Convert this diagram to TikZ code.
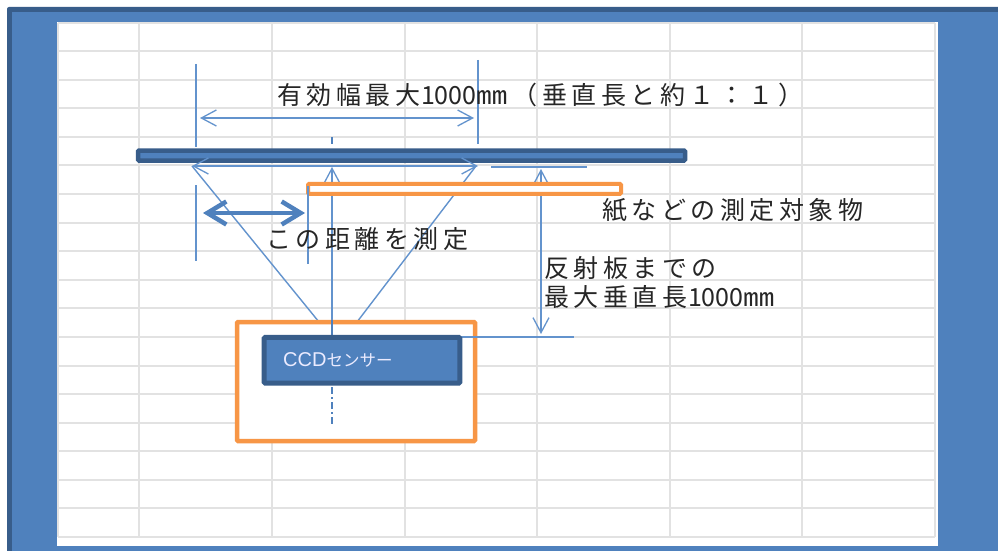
\documentclass[tikz,border=0pt]{standalone}
\usepackage{fontspec}
\usetikzlibrary{arrows.meta}
\newfontfamily\jpwide[LetterSpace=18]{Noto Sans CJK JP}
\newfontfamily\jpplain{Noto Sans CJK JP}
\newfontfamily\ccdfont{Liberation Sans}
\newcommand{\wtxt}[1]{{\jpwide #1}}
\newcommand{\mmsign}{\scalebox{1.25}[1]{㎜}}
\definecolor{blueback}{HTML}{4F81BD}
\definecolor{bluedark}{HTML}{385D8A}
\definecolor{blueline}{HTML}{6393CD}
\definecolor{orangeline}{HTML}{F79646}
\definecolor{gridline}{HTML}{E2E2E2}
\tikzset{
  gridrule/.style={draw=gridline,line width=1.4pt},
  dimline/.style={draw=blueline,line width=1.4pt},
  dimarrow/.style={dimline,{Straight Barb[length=15pt,width=16pt,line width=1.3pt]}-{Straight Barb[length=15pt,width=16pt,line width=1.3pt]}},
  uparrow/.style={dimline,{Straight Barb[length=15pt,width=16pt,line width=1.3pt]}-},
  thickarrow/.style={draw=blueback,line width=4.5pt,{Straight Barb[length=19pt,width=23pt,line width=4.5pt]}-{Straight Barb[length=19pt,width=23pt,line width=4.5pt]}},
  chaindash/.style={draw=blueback,line width=1.3pt,dash pattern=on 7pt off 3pt on 2pt off 3pt},
  jplabel/.style={anchor=west,inner sep=0pt,outer sep=0pt,text=black!85,font=\fontsize{25}{25}\selectfont\jpplain},
  barblue/.style={draw=bluedark,fill=blueback,line width=4pt,rounded corners=1pt,inner sep=0pt},
  barorange/.style={draw=orangeline,fill=white,line width=4pt,rounded corners=1pt,inner sep=0pt},
}
\begin{document}
\begin{tikzpicture}[x=1pt,y=-1pt]
\useasboundingbox (0,0) rectangle (998,551);
% frame
\fill[white] (0,0) rectangle (998,551);
\begin{scope}
\clip (0,0) rectangle (998,551);
\fill[bluedark,rounded corners=2pt] (7,7) rectangle (1010,560);
\end{scope}
\fill[blueback] (12,12) rectangle (998,551);
\fill[white] (57,22) rectangle (938,546);
% sheet grid
\foreach \yy in {23,51,80,108,137,165,194,223,251,280,308,337,366,394,423,451,480,508,537}
  \draw[gridrule] (58,\yy) -- (935,\yy);
\foreach \xx in {58,139,272,405,537,670,802,935}
  \draw[gridrule] (\xx,23) -- (\xx,537);
% named anchors
\coordinate (tlA) at (196,64);   \coordinate (tlB) at (196,147);
\coordinate (trA) at (478,60);   \coordinate (trB) at (478,144);
\coordinate (wL) at (200,118);   \coordinate (wR) at (474,118);
\coordinate (rL) at (192,166);   \coordinate (rR) at (478,166);
\coordinate (c0) at (332,137);   \coordinate (c1) at (332,144);
\coordinate (cT) at (332,167);   \coordinate (cB) at (332,335);
\coordinate (sL) at (319,322);   \coordinate (sR) at (357,322);
\coordinate (sRt) at (476,166);
\coordinate (mlA) at (196,185);  \coordinate (mlB) at (196,261);
\coordinate (mrA) at (308,186);  \coordinate (mrB) at (308,264);
\coordinate (dL) at (203,213);   \coordinate (dR) at (305,213);
\coordinate (hA) at (491,167);   \coordinate (hB) at (587,167);
\coordinate (vA) at (541,169);   \coordinate (vB) at (541,334);
\coordinate (bA) at (460,337);   \coordinate (bB) at (574,337);
\coordinate (c2) at (332,387);   \coordinate (c3) at (332,424);
% sloped rays (behind objects)
\draw[dimline] (rL) -- (sL);
\draw[dimline] (sRt) -- (sR);
% reflector
\node[barblue,line width=4.5pt,minimum width=547pt,minimum height=10pt] (reflector) at (411.5,155.5) {};
% dimension lines above
\draw[dimline] (tlA) -- (tlB);
\draw[dimline] (trA) -- (trB);
\draw[dimarrow] (wL) -- (wR);
\draw[dimarrow] (rL) -- (rR);
\draw[chaindash] (c0) -- (c1);
\draw[uparrow] (cT) -- (cB);
\draw[dimline] (hA) -- (hB);
\draw[dimarrow] (vA) -- (vB);
% orange target
\node[barorange,minimum width=313pt,minimum height=10pt] (target) at (464.5,188.9) {};
\draw[dimline] (mlA) -- (mlB);
\draw[dimline] (mrA) -- (mrB);
\draw[thickarrow] (dL) -- (dR);
% sensor housing
\node[barorange,line width=4.5pt,minimum width=238pt,minimum height=119pt] (housing) at (356,381.5) {};
\draw[dimline] (bA) -- (bB);
\draw[draw=blueback,line width=1.3pt] (332,320) -- (cB);
\node[barblue,line width=5pt,minimum width=195.6pt,minimum height=45.7pt] (ccd) at (362,360.3) {};
\node[anchor=west,inner sep=0pt,text=white!92!blue] (ccdtext) at (283,360) {\fontsize{20}{20}\selectfont\ccdfont CCD\fontsize{16.5}{20}\selectfont\jpplain センサー};
\draw[chaindash] (c2) -- (c3);
% labels
\node[jplabel] (title) at (277,95) {\wtxt{有効幅最大}\hspace{1pt}1000\mmsign\hspace{5pt}\wtxt{（垂直長と約１：１）}};
\node[jplabel] (paper) at (602,210) {\wtxt{紙などの測定対象物}};
\node[jplabel] (measure) at (266,239) {\wtxt{この距離を測定}};
\node[jplabel] (maxA) at (544,268) {\wtxt{反射板までの}};
\node[jplabel] (maxB) at (544,297) {\wtxt{最大垂直長}\hspace{1pt}1000\mmsign};
\end{tikzpicture}
\end{document}
